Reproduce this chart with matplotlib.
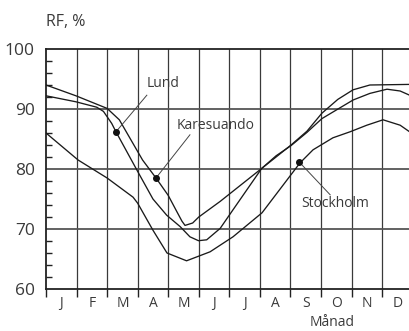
import matplotlib
matplotlib.use("Agg")
import matplotlib.pyplot as plt
import numpy as np

plt.rcParams['font.family'] = ['Open Sans', 'DejaVu Sans']

# month labels and relative humidity (RF, %)
months = ["J", "F", "M", "A", "M", "J", "J", "A", "S", "O", "N", "D"]

lund_x = [0.0, 0.98, 1.66, 1.88, 2.15, 2.29, 3.01, 3.5, 3.95, 4.39, 4.71, 4.99,
          5.26, 5.7, 6.12, 7.06, 7.53, 8.02, 8.54, 9.03, 10.05, 10.6, 11.16, 11.59, 11.9]
lund_rf = [92.2, 91.2, 90.3, 89.6, 87.6, 86.2, 79.5, 75.0, 72.3, 70.4, 68.7, 68.05,
           68.2, 70.1, 73.2, 80.1, 82.2, 83.9, 86.1, 88.4, 91.5, 92.6, 93.3, 93.0, 92.3]

kares_x = [0.0, 0.98, 2.0, 2.4, 3.16, 3.6, 4.0, 4.25, 4.45, 4.55, 4.8, 5.0,
           5.7, 7.06, 7.53, 8.02, 8.54, 9.03, 9.55, 10.05, 10.6, 11.9]
kares_rf = [94.0, 92.2, 90.1, 88.2, 81.5, 78.5, 75.6, 73.2, 71.3, 70.6, 71.0, 72.0,
            74.6, 80.1, 82.0, 84.0, 86.3, 89.3, 91.6, 93.2, 94.0, 94.1]

sthlm_x = [0.0, 1.05, 2.0, 2.85, 3.0, 3.5, 3.96, 4.6, 5.37, 6.12, 7.07, 8.31,
           8.74, 9.39, 9.95, 10.5, 11.03, 11.59, 11.9]
sthlm_rf = [86.0, 81.5, 78.5, 75.3, 74.3, 69.8, 66.0, 64.7, 66.2, 68.7, 72.7, 81.0,
            83.2, 85.2, 86.2, 87.3, 88.2, 87.3, 86.2]

txt = '#3a3a3a'

fig = plt.figure(figsize=(4.09, 3.31), dpi=100)
ax = fig.add_axes([46/409, 42/331, 363/409, 240/331])

ax.set_xlim(0, 11.88)
ax.set_ylim(60, 100)

# grid
for m in range(1, 12):
    ax.axvline(m, color='#3a3a3a', lw=0.9, zorder=1)
for v in [70, 80, 90]:
    ax.axhline(v, color='#555555', lw=1.3, zorder=1)

ax.plot(lund_x, lund_rf, color='#1a1a1a', lw=0.95, zorder=3)
ax.plot(kares_x, kares_rf, color='#1a1a1a', lw=0.95, zorder=3)
ax.plot(sthlm_x, sthlm_rf, color='#1a1a1a', lw=0.95, zorder=3)

for s in ['left', 'bottom', 'top']:
    ax.spines[s].set_color('#222222')
    ax.spines[s].set_linewidth(1.3)
ax.spines['right'].set_visible(False)

# y ticks
ax.set_yticks([60, 70, 80, 90, 100])
ax.set_yticklabels(['60', '70', '80', '90', '100'], fontsize=12.5, color=txt)
ax.set_yticks(np.arange(60, 100, 2), minor=True)
ax.tick_params(axis='y', which='major', direction='in', length=0, pad=8)
ax.tick_params(axis='y', which='minor', direction='in', length=4, width=1, color='#222222')

# x ticks: boundaries marked, labels at month centres
ax.set_xticks(range(0, 12))
ax.set_xticklabels([])
ax.tick_params(axis='x', which='major', direction='out', length=6, width=1, color='#222222')
ax.set_xticks(np.arange(12) + 0.5, minor=True)
ax.set_xticklabels(months, minor=True, fontsize=10, color=txt)
ax.tick_params(axis='x', which='minor', length=0, pad=5)

fig.text(46/409, 1 - 22/331, 'RF, %', fontsize=11.5, color=txt, va='center', ha='left')
fig.text(332/409, 1 - 322/331, 'Månad', fontsize=10, color=txt, va='center', ha='center')

# labels with pointers
labels = [("Lund", (2.29, 86.2), (3.30, 92.3), (3.30, 94.3)),
          ("Karesuando", (3.6, 78.5), (4.71, 85.7), (4.26, 87.3)),
          ("Stockholm", (8.28, 81.2), (9.30, 75.7), (8.37, 74.3))]
for name, dot, end, tpos in labels:
    ax.plot([dot[0], end[0]], [dot[1], end[1]], color='#444444', lw=0.7, zorder=4)
    ax.plot(dot[0], dot[1], 'o', color='#111111', ms=4, zorder=5)
    ax.text(tpos[0], tpos[1], name, fontsize=10, color=txt, va='center', ha='left', zorder=6)

fig.savefig('out.png', dpi=100)
